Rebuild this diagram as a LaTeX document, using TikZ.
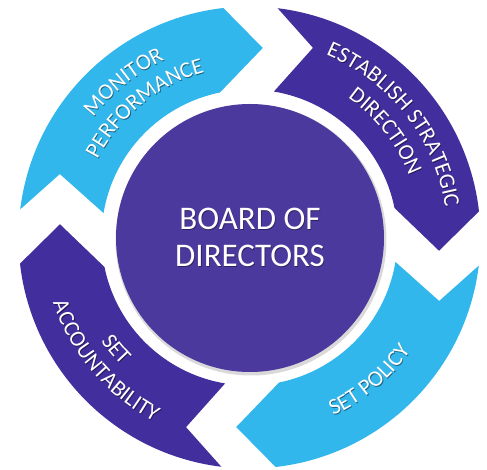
\documentclass[tikz,border=0pt]{standalone}
\usepackage{fontspec}
\setmainfont{Carlito}
\usetikzlibrary{decorations.text}
\definecolor{ringblue}{RGB}{50,183,237}
\definecolor{ringpurple}{RGB}{66,47,157}
\definecolor{hubpurple}{RGB}{76,57,158}
\newcommand\arcfont{\fontsize{22.5}{27}\selectfont}
% arrow segment: #1 = rotation offset (degrees)
\newcommand\ringarrow[1]{%
  (173+#1:231pt) -- (161.5+#1:200pt) -- (170.5+#1:148pt)
  arc[start angle=170.5+#1, end angle=101.5+#1, radius=148pt]
  -- (86+#1:190pt) -- (96.5+#1:231pt)
  arc[start angle=96.5+#1, end angle=173+#1, radius=231pt] -- cycle}
% clockwise text: #1 radius, #2 centre angle, #3 text
\newcommand\cwtext[3]{%
  \begin{scope}[shift={(0.8pt,-1pt)},opacity=0.45]
  \path[decorate,decoration={text along path,text align=center,text color=black,
    text={|\arcfont|#3}}]
    (#2+60:#1 pt) arc[start angle=#2+60, end angle=#2-60, radius=#1 pt];
  \end{scope}
  \path[decorate,decoration={text along path,text align=center,text color=white,
    text={|\arcfont|#3}}]
    (#2+60:#1 pt) arc[start angle=#2+60, end angle=#2-60, radius=#1 pt];}
% counter-clockwise text
\newcommand\ccwtext[3]{%
  \begin{scope}[shift={(0.8pt,-1pt)},opacity=0.45]
  \path[decorate,decoration={text along path,text align=center,text color=black,
    text={|\arcfont|#3}}]
    (#2-60:#1 pt) arc[start angle=#2-60, end angle=#2+60, radius=#1 pt];
  \end{scope}
  \path[decorate,decoration={text along path,text align=center,text color=white,
    text={|\arcfont|#3}}]
    (#2-60:#1 pt) arc[start angle=#2-60, end angle=#2+60, radius=#1 pt];}
\begin{document}
\begin{tikzpicture}[x=1pt,y=1pt,
  bluearrow/.style={fill=ringblue},
  purplearrow/.style={fill=ringpurple},
  hub/.style={circle,fill=hubpurple,minimum size=268pt,inner sep=0pt},
  hubtext/.style={align=center,font=\fontsize{33}{37}\selectfont,text=white}]
\useasboundingbox (-249.5,-232.5) rectangle (237.5,237.5);
% ring arrows
\fill[bluearrow]   \ringarrow{0};
\fill[purplearrow] \ringarrow{-90};
\fill[bluearrow]   \ringarrow{-180};
\fill[purplearrow] \ringarrow{90};
% centre
\fill[black,opacity=0.15] (1.5,-2.5) circle[radius=135.5pt];
\node[hub] (board) at (0.5,-0.5) {};
\node[hubtext,text=black,opacity=0.4] (boardshadow) at (1.3,-0.5) {BOARD OF\\DIRECTORS};
\node[hubtext] (boardtext) at (0.5,0.5) {BOARD OF\\DIRECTORS};
% labels
\cwtext{197}{129}{MONITOR}
\cwtext{171}{129}{PERFORMANCE}
\cwtext{198}{38}{ESTABLISH STRATEGIC}
\cwtext{171}{38}{DIRECTION}
\ccwtext{197}{-50}{SET POLICY}
\ccwtext{181}{220}{SET}
\ccwtext{207}{220.5}{ACCOUNTABILITY}
\end{tikzpicture}
\end{document}
